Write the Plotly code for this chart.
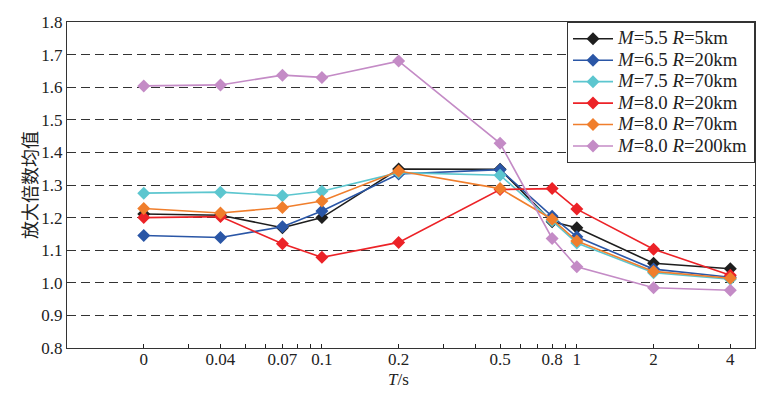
import plotly.graph_objects as go

# ---------------- data ----------------
periods = [0.02, 0.04, 0.07, 0.1, 0.2, 0.5, 0.8, 1, 2, 4]
period_labels = ["0", "0.04", "0.07", "0.1", "0.2", "0.5", "0.8", "1", "2", "4"]
minor_periods = [0.03, 0.05, 0.06, 0.08, 0.09, 0.3, 0.4, 0.6, 0.7, 0.9, 3]
decade_periods = [0.1, 1]
y_ticks = [0.8, 0.9, 1.0, 1.1, 1.2, 1.3, 1.4, 1.5, 1.6, 1.7, 1.8]

series_names = [
    "<i>M</i>=5.5 <i>R</i>=5km",
    "<i>M</i>=6.5 <i>R</i>=20km",
    "<i>M</i>=7.5 <i>R</i>=70km",
    "<i>M</i>=8.0 <i>R</i>=20km",
    "<i>M</i>=8.0 <i>R</i>=70km",
    "<i>M</i>=8.0 <i>R</i>=200km",
]
m55_r5 = [1.211, 1.207, 1.169, 1.200, 1.349, 1.348, 1.187, 1.169, 1.060, 1.043]
m65_r20 = [1.145, 1.139, 1.172, 1.220, 1.334, 1.347, 1.204, 1.141, 1.042, 1.017]
m75_r70 = [1.275, 1.278, 1.267, 1.281, 1.338, 1.330, 1.190, 1.122, 1.031, 1.011]
m80_r20 = [1.200, 1.203, 1.120, 1.078, 1.124, 1.286, 1.289, 1.226, 1.103, 1.023]
m80_r70 = [1.228, 1.214, 1.231, 1.251, 1.343, 1.289, 1.195, 1.128, 1.035, 1.014]
m80_r200 = [1.604, 1.607, 1.637, 1.630, 1.680, 1.428, 1.136, 1.049, 0.985, 0.977]

series_values = [m55_r5, m65_r20, m75_r70, m80_r20, m80_r70, m80_r200]
colors = ["#1e1e1e", "#2a56a6", "#5cc6cf", "#ec2227", "#f07e2c", "#c48bc6"]

serif = "Liberation Serif, Times New Roman, serif"

fig = go.Figure()
for name, vals, col in zip(series_names, series_values, colors):
    fig.add_trace(go.Scatter(
        x=periods, y=vals,
        name='<span style="font-size:18.8px">' + name + "</span>",
        mode="lines+markers",
        line=dict(color=col, width=1.6),
        marker=dict(symbol="diamond", size=10, color=col),
    ))

fig.update_layout(
    width=769, height=395,
    margin=dict(l=67, r=14, t=22, b=47),
    paper_bgcolor="white", plot_bgcolor="white",
    font=dict(family=serif, size=17, color="#222"),
    showlegend=True,
    legend=dict(
        x=1, xanchor="right", y=1, yanchor="top",
        bgcolor="white", bordercolor="#333", borderwidth=1,
        font=dict(family=serif, size=14.2, color="#222"),
        tracegroupgap=0, itemwidth=40,
    ),
    xaxis=dict(
        type="log", range=[-2, 0.69897],
        tickmode="array", tickvals=periods, ticktext=period_labels,
        ticks="inside", ticklen=4, tickcolor="#222", tickwidth=1,
        ticklabelstandoff=-5,
        showgrid=False, zeroline=False,
        showline=True, linecolor="#333", linewidth=1.2, mirror=True,
        tickfont=dict(family=serif, size=17, color="#222"),
        minor=dict(tickmode="array", tickvals=minor_periods, ticks="inside",
                   ticklen=4, tickcolor="#222", showgrid=False),
    ),
    xaxis2=dict(
        type="log", range=[-2, 0.69897], overlaying="x", anchor="y",
        side="bottom", tickmode="array", tickvals=decade_periods,
        ticks="inside", ticklen=8, tickcolor="#222", tickwidth=1,
        showticklabels=False, showgrid=False, zeroline=False, showline=False,
    ),
    yaxis=dict(
        range=[0.8, 1.8], tickmode="array", tickvals=y_ticks,
        tickformat=".1f", ticks="",
        showgrid=True, gridcolor="#333", gridwidth=1.1, griddash="9px,5px",
        zeroline=False,
        showline=True, linecolor="#333", linewidth=1.2, mirror=True,
        tickfont=dict(family=serif, size=17, color="#222"),
    ),
    annotations=[
        dict(text="<i>T</i>/s", xref="paper", yref="paper",
             x=(398 - 67) / 688, y=(348 - 379) / 326,
             xanchor="center", yanchor="middle",
             showarrow=False, font=dict(family=serif, size=17, color="#222")),
        dict(text="放大倍数均值", xref="paper", yref="paper",
             x=(29 - 67) / 688, y=0.5, xanchor="center", yanchor="middle",
             textangle=-90, showarrow=False,
             font=dict(family="Noto Sans CJK SC", size=18, color="#222")),
    ],
)

fig.write_html(
    "out.html",
    config={"displayModeBar": False},
    post_script="document.body.style.margin='0';document.body.style.overflow='hidden';",
)
